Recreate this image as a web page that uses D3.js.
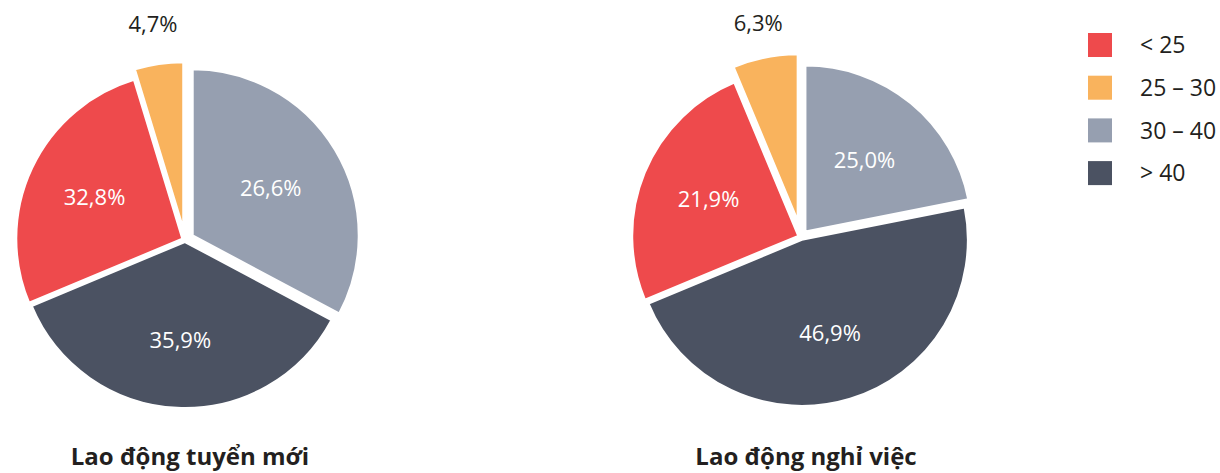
<!DOCTYPE html>
<html>
<head>
<meta charset="utf-8">
<script src="https://cdn.jsdelivr.net/npm/d3@7"></script>
<style>
  html, body { margin: 0; padding: 0; background: #fff; }
  svg text { font-family: "Open Sans", "Noto Sans", sans-serif; }
</style>
</head>
<body>
<svg id="chart" width="1220" height="473"></svg>
<script>
// age groups, legend order
var categories = ["< 25", "25 – 30", "30 – 40", "> 40"];
// drawing order around the pie (clockwise from 12 o'clock)
var sliceOrder = ["30 – 40", "> 40", "< 25", "25 – 30"];
var colors = ["#ee4a4c", "#f9b35d", "#969fb0", "#4b5262"];

var titles = ["Lao động tuyển mới", "Lao động nghỉ việc"];
// slice sizes as drawn, per category
var hiredValues = [26.6, 4.7, 32.8, 35.9];
var leftValues = [25.0, 6.3, 21.9, 46.9];
// percentages printed on the slices, per category
var hiredLabels = ["32,8%", "4,7%", "26,6%", "35,9%"];
var leftLabels = ["21,9%", "6,3%", "25,0%", "46,9%"];

var R = 166;
var svg = d3.select("#chart");

var color = d3.scaleOrdinal().domain(categories).range(colors);

var pie = d3.pie()
    .sort(null)
    .value(function (d) { return d.value; });
var arc = d3.arc().innerRadius(0).outerRadius(R);
var labelArc = d3.arc().innerRadius(100).outerRadius(100);
var outerArc = d3.arc().innerRadius(218).outerRadius(218);

var charts = [
    { title: titles[0], values: hiredValues, labels: hiredLabels,
      cx: 185, cy: 240, explode: [3, 12, 9, 2] },
    { title: titles[1], values: leftValues, labels: leftLabels,
      cx: 801, cy: 237, explode: [3, 17, 7, 3] }
];

charts.forEach(function (c) {
    var data = sliceOrder.map(function (k) {
        var i = categories.indexOf(k);
        return { key: k, value: c.values[i], label: c.labels[i], explode: c.explode[i] };
    });
    var arcs = pie(data);
    var g = svg.append("g")
        .attr("transform", "translate(" + c.cx + "," + c.cy + ")");

    var slice = g.selectAll(".slice")
        .data(arcs)
        .enter().append("g")
        .classed("slice", true)
        .attr("transform", function (d) {
            var a = (d.startAngle + d.endAngle) / 2, e = d.data.explode;
            return "translate(" + (Math.sin(a) * e) + "," + (-Math.cos(a) * e) + ")";
        });
    slice.append("path")
        .attr("d", arc)
        .style("fill", function (d) { return color(d.data.key); })
        .style("stroke", "#fff")
        .style("stroke-width", 2);

    g.selectAll(".lbl")
        .data(arcs)
        .enter().append("text")
        .classed("lbl", true)
        .attr("transform", function (d) {
            var small = d.data.value < 10;
            return "translate(" + (small ? outerArc : labelArc).centroid(d) + ")";
        })
        .attr("text-anchor", "middle")
        .attr("dy", "0.36em")
        .style("font-size", "22px")
        .style("fill", function (d) { return d.data.value < 10 ? "#231f20" : "#fff"; })
        .text(function (d) { return d.data.label; });

    svg.append("text")
        .attr("x", c.cx + 5)
        .attr("y", 465)
        .attr("text-anchor", "middle")
        .style("font-size", "24px")
        .style("font-weight", "bold")
        .style("fill", "#231f20")
        .text(c.title);
});

var legend = svg.append("g").attr("transform", "translate(1088,33)");
var item = legend.selectAll(".item")
    .data(categories)
    .enter().append("g")
    .classed("item", true)
    .attr("transform", function (d, i) { return "translate(0," + (i * 42.7) + ")"; });
item.append("rect")
    .attr("width", 24)
    .attr("height", 24)
    .style("fill", function (d) { return color(d); });
item.append("text")
    .attr("x", 52)
    .attr("y", 12)
    .attr("dy", "0.36em")
    .style("font-size", "23px")
    .style("fill", "#231f20")
    .text(function (d) { return d; });
</script>
</body>
</html>
